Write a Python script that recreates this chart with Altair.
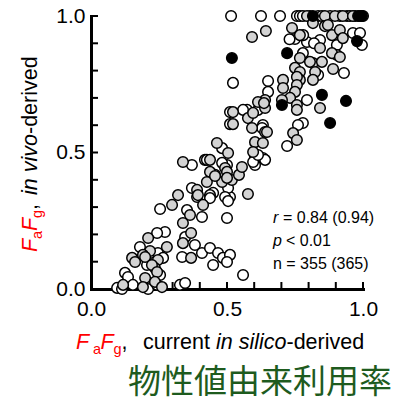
import altair as alt
import pandas as pd

# ---- data ----
white_x = [0.515, 0.625, 0.695, 0.757, 0.768, 1.0, 0.779, 0.805, 0.835, 0.849, 0.879, 0.915, 0.941, 0.952, 0.971, 0.989,
           0.750, 0.794, 0.842, 0.904, 0.963, 0.989, 0.996, 0.904, 0.779, 0.522, 0.930, 0.835, 0.651, 0.651,
           0.794, 0.574, 0.632, 0.779, 0.761, 0.721, 0.603, 0.632, 0.419, 0.456, 0.603, 0.449, 0.511,
           0.559, 0.614, 0.629, 0.596, 0.640, 0.614, 0.500, 0.504, 0.511, 0.511, 0.482, 0.371, 0.426, 0.482,
           0.371, 0.4375, 0.493, 0.254, 0.390, 0.4375, 0.408, 0.353, 0.346, 0.382, 0.335, 0.408, 0.4375,
           0.467, 0.449, 0.485, 0.500, 0.272, 0.243, 0.180, 0.246, 0.235, 0.206, 0.265, 0.254, 0.125, 0.136,
           0.154, 0.096, 0.114, 0.210, 0.243, 0.327, 0.346, 0.504, 0.511, 0.500, 0.559,
           0.730, 0.780, 0.820]
white_y = [1.0, 1.0, 1.0, 1.0, 1.0, 1.0, 1.0, 1.0, 1.0, 1.0, 1.0, 1.0, 1.0, 1.0, 1.0, 1.0,
           0.916, 0.905, 0.912, 0.894, 0.938, 0.938, 0.894, 0.857, 0.864, 0.755, 0.791, 0.784, 0.762, 0.722,
           0.692, 0.656, 0.601, 0.608, 0.601, 0.524, 0.484, 0.480, 0.473, 0.418, 0.454, 0.352, 0.337,
           0.656, 0.656, 0.590, 0.465, 0.473, 0.491, 0.454, 0.370, 0.648, 0.604, 0.516, 0.454, 0.473, 0.462,
           0.370, 0.344, 0.337, 0.293, 0.337, 0.333, 0.264, 0.289, 0.190, 0.161, 0.117, 0.132, 0.150,
           0.132, 0.088, 0.114, 0.260, 0.209, 0.205, 0.154, 0.132, 0.099, 0.088, 0.114, 0.051, 0.059, 0.044,
           0.015, 0.004, 0.0, 0.0, 0.015, 0.015, 0.022, 0.322, 0.125, 0.099, 0.051,
           0.915, 0.930, 0.900]

grey_x = [0.794, 0.860, 0.897, 0.926, 0.963, 0.592, 0.643, 0.739, 0.768, 0.816, 0.860, 0.871, 0.886, 0.915,
          0.926, 0.842, 0.886, 0.915, 0.768, 0.816, 0.805, 0.849, 0.750, 0.768, 0.824, 0.890, 0.816, 0.768,
          0.757, 0.706, 0.706, 0.757, 0.750, 0.732, 0.640, 0.614, 0.640, 0.702, 0.757, 0.757, 0.842, 0.522,
          0.522, 0.577, 0.592, 0.596, 0.640, 0.743, 0.757, 0.603, 0.632, 0.596, 0.463, 0.504, 0.4375, 0.493,
          0.4375, 0.426, 0.482, 0.518, 0.544, 0.555, 0.577, 0.636, 0.647, 0.500, 0.338, 0.456, 0.500, 0.390,
          0.393, 0.320, 0.298, 0.412, 0.364, 0.338, 0.368, 0.338, 0.368, 0.279, 0.210, 0.217, 0.191, 0.246,
          0.151, 0.162, 0.199, 0.235, 0.224, 0.243, 0.199, 0.235, 0.191, 0.118, 0.261]
grey_y = [1.0, 1.0, 1.0, 1.0, 1.0, 0.923, 0.945, 0.956, 0.930, 0.974, 0.963, 0.967, 0.930, 0.949,
          0.919, 0.883, 0.864, 0.850, 0.846, 0.828, 0.832, 0.832, 0.810, 0.795, 0.795, 0.806, 0.766, 0.766,
          0.777, 0.766, 0.736, 0.747, 0.722, 0.700, 0.692, 0.685, 0.663, 0.692, 0.674, 0.656, 0.663, 0.648,
          0.604, 0.626, 0.590, 0.645, 0.575, 0.571, 0.546, 0.538, 0.535, 0.502, 0.535, 0.498, 0.473, 0.443,
          0.429, 0.392, 0.392, 0.399, 0.418, 0.447, 0.348, 0.681, 0.575, 0.429, 0.465, 0.414, 0.407, 0.363,
          0.344, 0.344, 0.308, 0.308, 0.271, 0.242, 0.205, 0.168, 0.114, 0.154, 0.187, 0.139, 0.125, 0.106,
          0.114, 0.099, 0.117, 0.077, 0.088, 0.062, 0.040, 0.026, 0.007, 0.015, 0.007]

black_x = [0.816, 0.982, 0.996, 0.978, 0.721, 0.518, 0.849, 0.9375, 0.702, 0.879]
black_y = [1.0, 1.0, 1.0, 0.908, 0.864, 0.846, 0.711, 0.689, 0.674, 0.608]

tick_values = [0.0, 0.1, 0.2, 0.3, 0.4, 0.5, 0.6, 0.7, 0.8, 0.9, 1.0]
label_values = [0.0, 0.5, 1.0]

stat_x = [0.669, 0.669, 0.669]
stat_y = [0.242, 0.158, 0.073]
stat_italic = ["r", "p", ""]
stat_rest = ["= 0.84 (0.94)", "< 0.01", "n = 355 (365)"]

FONT = "Liberation Sans"
W, H = 272, 273

xs = alt.Scale(domain=[0, 1], nice=False, zero=False)
ys = alt.Scale(domain=[0, 1], nice=False, zero=False)

ax_x = alt.Axis(values=label_values, format=".1f", ticks=False, tickSize=0, labelPadding=9,
                domainWidth=3, domainColor="black", domainCap="square", labelFontSize=21,
                labelFont=FONT, labelColor="black", labelFlush=False, grid=False, title=None)
ax_y = alt.Axis(values=label_values, format=".1f", ticks=False, tickSize=0, labelPadding=6,
                domainWidth=3, domainColor="black", domainCap="square", labelFontSize=21,
                labelFont=FONT, labelColor="black", labelFlush=False, grid=False, title=None)

tick_df = pd.DataFrame({"t": tick_values})
yticks = alt.Chart(tick_df).mark_rule(color="black", strokeWidth=2).encode(
    y=alt.Y("t:Q", scale=ys, axis=ax_y), x=alt.value(0), x2=alt.value(7))
xticks = alt.Chart(tick_df).mark_rule(color="black", strokeWidth=2).encode(
    x=alt.X("t:Q", scale=xs, axis=ax_x), y=alt.value(H), y2=alt.value(H - 7))


def pts(xv, yv, fill):
    df = pd.DataFrame({"x": xv, "y": yv})
    return alt.Chart(df).mark_circle(fill=fill, stroke="black", strokeWidth=1.5, size=112, opacity=1).encode(
        x=alt.X("x:Q", scale=xs, axis=ax_x), y=alt.Y("y:Q", scale=ys, axis=ax_y))


stat_df = pd.DataFrame({"x": stat_x, "y": stat_y, "it": stat_italic, "rest": stat_rest,
                        "dx": [10, 13, 0]})
stat_it = alt.Chart(stat_df).mark_text(font=FONT, fontSize=16, fontStyle="italic", align="left",
                                       baseline="alphabetic", color="black").encode(
    x=alt.X("x:Q", scale=xs, axis=ax_x), y=alt.Y("y:Q", scale=ys, axis=ax_y), text="it:N")
stat_rest_l = [alt.Chart(stat_df.iloc[[i]]).mark_text(font=FONT, fontSize=16, align="left",
                                                     baseline="alphabetic", color="black",
                                                     dx=int(stat_df.dx[i])).encode(
    x=alt.X("x:Q", scale=xs, axis=ax_x), y=alt.Y("y:Q", scale=ys, axis=ax_y), text="rest:N")
    for i in range(3)]

one = pd.DataFrame({"a": [0]})


def txt(s, x, y, size=21.5, color="black", style="normal", angle=0, font=FONT):
    return alt.Chart(one).mark_text(text=s, font=font, fontSize=size, fontStyle=style, color=color,
                                    align="left", baseline="alphabetic", angle=angle).encode(
        x=alt.value(x), y=alt.value(y))


# x title (page coords minus plot origin 91,16)
xt = [
    txt("F", -15, 333, color="red", style="italic"),
    txt("a", 2, 338, size=14.5, color="red"),
    txt("F", 9.5, 333, color="red", style="italic"),
    txt("g", 22.5, 338, size=14.5, color="red"),
    txt(",", 30.5, 333),
    txt("current", 52, 333),
    txt("in silico", 125, 333, style="italic"),
    txt("-derived", 195.5, 333),
]
# y title, rotated
yt = [
    txt("F", -54, 236, color="red", style="italic", angle=270),
    txt("a", -49, 223, size=14.5, color="red", angle=270),
    txt("F", -54, 215, color="red", style="italic", angle=270),
    txt("g", -49, 202, size=14.5, color="red", angle=270),
    txt(",", -54, 194, angle=270),
    txt("in vivo", -54, 179, style="italic", angle=270),
    txt("-derived", -54, 118, angle=270),
]
jp = txt("物性値由来利用率", 37, 377, size=33, color="#1e5b1e", font="Noto Sans CJK JP")

chart = alt.layer(
    yticks, xticks,
    pts(white_x, white_y, "white"),
    pts(grey_x, grey_y, "#d3d3d3"),
    pts(black_x, black_y, "black"),
    stat_it, *stat_rest_l, *xt, *yt, jp,
).properties(
    width=W, height=H,
    padding={"left": 91, "top": 16, "right": 38, "bottom": 108},
    autosize=alt.AutoSizeParams(type="none"),
    background="white",
).configure_view(stroke="transparent")

chart.save("out.html", embed_options={"renderer": "svg", "actions": False})
